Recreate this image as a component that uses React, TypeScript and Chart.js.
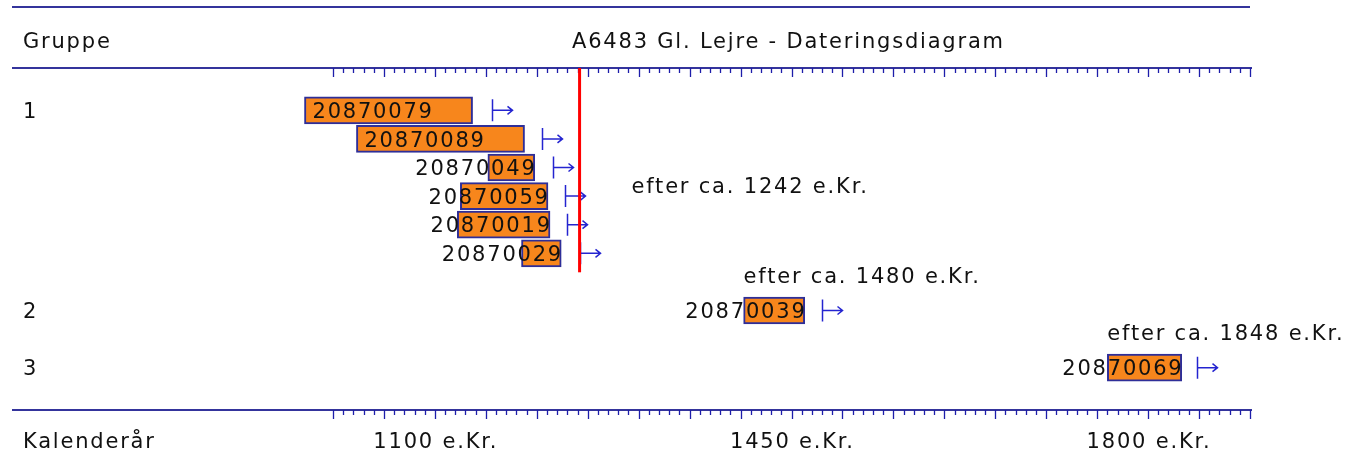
import { useEffect, useRef } from 'react';
import { Chart, registerables } from 'chart.js';

Chart.register(...registerables);

// ---- data ----
const chartTitle = 'A6483 Gl. Lejre - Dateringsdiagram';
const groupNames = ['1', '2', '3'];
const groupAfterYear = [1242, 1480, 1848];
const sampleIds = ['20870079', '20870089', '20870049', '20870059', '20870019', '20870029', '20870039', '20870069'];
const sampleGroup = [0, 0, 0, 0, 0, 0, 1, 2];
const rangeFrom = [972, 1023, 1152, 1125, 1122, 1185, 1403, 1760];
const rangeTo = [1137, 1188, 1198, 1211, 1213, 1224, 1463, 1833];
const afterYears = [1156, 1205, 1216, 1228, 1230, 1242, 1480, 1848];
const axisMin = 1000;
const axisMax = 1900;
const axisLabelYears = [1100, 1450, 1800];
const eraSuffix = ' e.Kr.';

// rows (spacer rows between groups)
const rowLabels: string[] = [];
const rowData: (number[] | null)[] = [];
const rowSample: number[] = [];
sampleIds.forEach((id, i) => {
  if (i > 0 && sampleGroup[i] !== sampleGroup[i - 1]) {
    rowLabels.push('gap' + i);
    rowData.push(null);
    rowSample.push(-1);
  }
  rowLabels.push(id);
  rowData.push([rangeFrom[i], rangeTo[i]]);
  rowSample.push(i);
});

const FONT = '21px "DejaVu Sans"';
const SPACING = 1.8;
const LINE = '#34349c';
const TICK = '#1e1eaa';
const ARROW = '#2424d0';

function textW(ctx: CanvasRenderingContext2D, s: string) {
  return ctx.measureText(s).width;
}

function drawText(ctx: CanvasRenderingContext2D, s: string, x: number, cy: number, align: 'left' | 'center' | 'right' = 'left') {
  ctx.save();
  ctx.font = FONT;
  (ctx as any).letterSpacing = SPACING + 'px';
  ctx.textAlign = 'left';
  ctx.textBaseline = 'alphabetic';
  ctx.fillStyle = '#111';
  const w = textW(ctx, s) - SPACING;
  let lx = x;
  if (align === 'center') lx = x - w / 2;
  if (align === 'right') lx = x - w;
  ctx.fillText(s, lx, cy + 7.6);
  ctx.restore();
}

const decorPlugin = {
  id: 'decor',
  beforeDraw(chart: any) {
    const ctx = chart.ctx as CanvasRenderingContext2D;
    ctx.save();
    ctx.fillStyle = '#ffffff';
    ctx.fillRect(0, 0, chart.width, chart.height);
    ctx.restore();
  },
  afterDatasetsDraw(chart: any) {
    const ctx = chart.ctx as CanvasRenderingContext2D;
    const xs = chart.scales.x;
    const ys = chart.scales.y;
    const area = chart.chartArea;
    const lineLeft = 12;
    const lineRight = xs.getPixelForValue(axisMax) + 2;
    const topLineY = 7;
    const axisTopY = 68;
    const axisBottomY = 410;

    // horizontal frame lines
    ctx.save();
    ctx.strokeStyle = LINE;
    ctx.lineWidth = 2;
    ctx.beginPath();
    ctx.moveTo(lineLeft, topLineY); ctx.lineTo(lineRight - 2, topLineY);
    ctx.moveTo(lineLeft, axisTopY); ctx.lineTo(lineRight, axisTopY);
    ctx.moveTo(lineLeft, axisBottomY); ctx.lineTo(lineRight, axisBottomY);
    ctx.stroke();

    // ticks (hanging down) on both axes
    ctx.strokeStyle = TICK;
    ctx.lineWidth = 1.3;
    for (let v = axisMin; v <= axisMax; v += 10) {
      const px = Math.round(xs.getPixelForValue(v)) + 0.5;
      const len = v % 50 === 0 ? 9 : 5;
      ctx.beginPath();
      ctx.moveTo(px, axisTopY); ctx.lineTo(px, axisTopY + len);
      ctx.moveTo(px, axisBottomY); ctx.lineTo(px, axisBottomY + len);
      ctx.stroke();
    }
    ctx.restore();

    // header + footer texts
    drawText(ctx, 'Gruppe', 23, 40);
    drawText(ctx, chartTitle, (area.left + area.right) / 2 - 4, 40, 'center');
    drawText(ctx, 'Kalenderår', 23, 440);
    axisLabelYears.forEach((y) => {
      drawText(ctx, y + eraSuffix, xs.getPixelForValue(y), 440, 'center');
    });

    // sample labels and arrows
    ctx.save();
    ctx.font = FONT;
    (ctx as any).letterSpacing = SPACING + 'px';
    rowSample.forEach((si, row) => {
      if (si < 0) return;
      const cy = ys.getPixelForValue(row);
      const x0 = xs.getPixelForValue(rangeFrom[si]);
      const x1 = xs.getPixelForValue(rangeTo[si]);
      const w = textW(ctx, sampleIds[si]) - SPACING;
      if (x1 - x0 > w + 16) drawText(ctx, sampleIds[si], x0 + 8, cy);
      else drawText(ctx, sampleIds[si], x1, cy, 'right');

      const ax = Math.round(xs.getPixelForValue(afterYears[si])) + 0.5;
      ctx.save();
      ctx.strokeStyle = ARROW;
      ctx.lineWidth = 1.5;
      ctx.beginPath();
      ctx.moveTo(ax, cy - 11); ctx.lineTo(ax, cy + 11);
      ctx.moveTo(ax, cy); ctx.lineTo(ax + 20, cy);
      ctx.moveTo(ax + 15, cy - 4); ctx.lineTo(ax + 20, cy); ctx.lineTo(ax + 15, cy + 4);
      ctx.stroke();
      ctx.restore();
    });
    ctx.restore();

    // group labels, combined dating
    groupNames.forEach((g, gi) => {
      const rows = rowSample.map((si, r) => (si >= 0 && sampleGroup[si] === gi ? r : -1)).filter((r) => r >= 0);
      const firstY = ys.getPixelForValue(rows[0]);
      const lastY = ys.getPixelForValue(rows[rows.length - 1]);
      drawText(ctx, g, 23, firstY);
      const txt = 'efter ca. ' + groupAfterYear[gi] + eraSuffix;
      const gx = xs.getPixelForValue(groupAfterYear[gi]);
      if (rows.length > 1) {
        ctx.save();
        ctx.strokeStyle = '#ff0000';
        ctx.lineWidth = 3;
        ctx.beginPath();
        ctx.moveTo(gx, axisTopY);
        ctx.lineTo(gx, lastY + 19);
        ctx.stroke();
        ctx.restore();
        drawText(ctx, txt, gx + 52, (firstY + lastY) / 2 + 4);
      } else {
        const si = rowSample[rows[0]];
        drawText(ctx, txt, xs.getPixelForValue(rangeFrom[si]), firstY - 35);
      }
    });
  },
};

export default function App() {
  const ref = useRef<HTMLCanvasElement | null>(null);
  useEffect(() => {
    document.body.style.margin = '0';
    document.body.style.background = '#ffffff';
    if (!ref.current) return;
    const chart = new Chart(ref.current, {
      type: 'bar',
      data: {
        labels: rowLabels,
        datasets: [
          {
            data: rowData as any,
            backgroundColor: '#f7861c',
            borderColor: '#2e2e98',
            borderWidth: 2,
            borderSkipped: false,
            barThickness: 27,
            clip: false as any,
          },
        ],
      },
      options: {
        indexAxis: 'y',
        animation: false,
        responsive: false,
        devicePixelRatio: 1,
        layout: { padding: { left: 333, right: 109, top: 96, bottom: 83 } },
        scales: {
          x: { type: 'linear', min: axisMin, max: axisMax, display: false, grid: { display: false } },
          y: { type: 'category', display: false, offset: true, grid: { display: false } },
        },
        plugins: { legend: { display: false }, tooltip: { enabled: false }, title: { display: false } },
      },
      plugins: [decorPlugin],
    });
    return () => chart.destroy();
  }, []);
  return <canvas ref={ref} width={1359} height={465} style={{ display: 'block' }} />;
}
